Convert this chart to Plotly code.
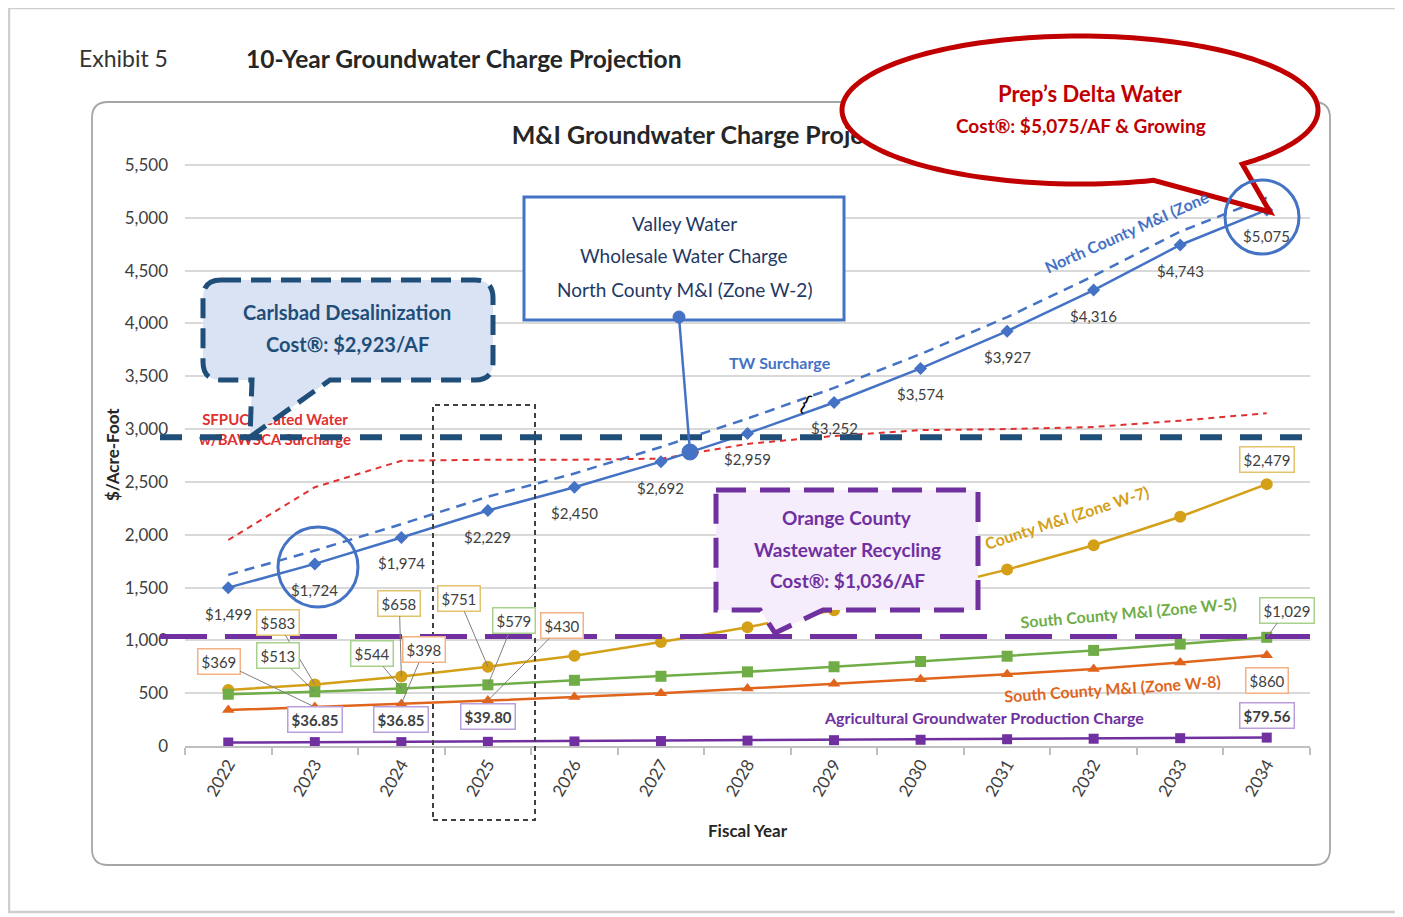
import numpy as np
import plotly.graph_objects as go

# ---------------- data ----------------
years = list(range(2022, 2035))
year_labels = [str(y) for y in years]
north_w2 = [1499, 1724, 1974, 2229, 2450, 2692, 2959, 3252, 3574, 3927, 4316, 4743, 5075]
north_w2_tw = [1620, 1850, 2100, 2360, 2580, 2830, 3100, 3390, 3710, 4060, 4450, 4870, 5190]
sfpuc = [1950, 2450, 2700, 2710, 2710, 2720, 2860, 2935, 2990, 3000, 3020, 3080, 3150]
north_w7 = [530, 583, 658, 751, 855, 985, 1125, 1285, 1470, 1670, 1900, 2170, 2479]
south_w5 = [490, 513, 544, 579, 622, 660, 702, 750, 800, 850, 905, 965, 1029]
south_w8 = [340, 369, 398, 430, 465, 500, 545, 590, 632, 680, 730, 790, 860]
agri = [33.00, 36.85, 36.85, 39.80, 43, 47, 51, 55, 59, 64, 69, 74, 79.56]
carlsbad_cost = 2923
oc_cost = 1036
y_ticks = list(range(0, 5501, 500))

FONT = "Lato"
BLUE = "#4472C4"
GOLD = "#D4A017"
GREEN = "#70AD47"
ORANGE = "#E0651C"
PURPLE = "#7030A0"
RED = "#E03030"
NAVY = "#1F4E79"
DARKRED = "#C00000"
TXT = "#404040"

# page geometry (reference pixels); the html body adds an 8px offset
OFF = 8
PW, PH = 1403, 917
W, H = PW - OFF, PH - OFF
L, R, B = 185, 1310, 746          # plot area left/right/bottom
Y5500 = 165                       # pixel row of the 5,500 gridline
TOPPX = 110                       # top of (invisible) plot area
YMAX = 5500 * (B - TOPPX) / (B - Y5500)


def px(x):
    return (x - L) / (R - L)


def py(y):
    return (B - y) / (B - TOPPX)


def ydata(y):
    return YMAX * (B - y) / (B - TOPPX)


def xdata(x):
    return 2021.5 + 13 * (x - L) / (R - L)


def P(x, y):
    return f"{px(x):.5f},{py(y):.5f}"


fig = go.Figure()

# ---------------- series ----------------
fig.add_trace(go.Scatter(x=years, y=sfpuc, mode="lines",
                         line=dict(color=RED, width=2, dash="6px,5px"), hoverinfo="skip"))
fig.add_trace(go.Scatter(x=years, y=north_w2_tw, mode="lines",
                         line=dict(color=BLUE, width=2.5, dash="10px,7px"), hoverinfo="skip"))
fig.add_trace(go.Scatter(x=years, y=north_w2, mode="lines+markers",
                         line=dict(color=BLUE, width=2.5),
                         marker=dict(symbol="diamond", size=10, color=BLUE), hoverinfo="skip"))
fig.add_trace(go.Scatter(x=years, y=north_w7, mode="lines+markers",
                         line=dict(color=GOLD, width=2.5),
                         marker=dict(symbol="circle", size=12, color=GOLD), hoverinfo="skip"))
fig.add_trace(go.Scatter(x=years, y=south_w5, mode="lines+markers",
                         line=dict(color=GREEN, width=2.5),
                         marker=dict(symbol="square", size=11, color=GREEN), hoverinfo="skip"))
fig.add_trace(go.Scatter(x=years, y=south_w8, mode="lines+markers",
                         line=dict(color=ORANGE, width=2.5),
                         marker=dict(symbol="triangle-up", size=11, color=ORANGE), hoverinfo="skip"))
fig.add_trace(go.Scatter(x=years, y=agri, mode="lines+markers",
                         line=dict(color=PURPLE, width=2.5),
                         marker=dict(symbol="square", size=10, color=PURPLE), hoverinfo="skip"))

# texts that sit beneath the callout shapes (drawn as text traces)
fig.add_trace(go.Scatter(x=[xdata(716)], y=[ydata(138)], mode="text",
                         text=["M&I Groundwater Charge Projection"], cliponaxis=False,
                         textfont=dict(family=FONT, size=25, color="#262626", weight="bold"),
                         hoverinfo="skip"))
fig.add_trace(go.Scatter(x=[xdata(275)], y=[ydata(431)], mode="text",
                         text=["SFPUC Treated Water<br>w/BAWSCA Surcharge"], cliponaxis=False,
                         textfont=dict(family=FONT, size=15, color=RED, weight="bold"),
                         hoverinfo="skip"))

annotations = []

# data labels on the North County W-2 line
for x, v in zip(years, north_w2):
    annotations.append(dict(x=x, y=v, text=f"${v:,}", showarrow=False, yshift=-26,
                            font=dict(family=FONT, size=15, color=TXT)))


def boxed(x, y, text, color, ax=None, ay=None, yshift=0, bold=False):
    d = dict(x=x, y=y, text=(f"<b>{text}</b>" if bold else text),
             font=dict(family=FONT, size=15, color=TXT),
             bgcolor="white", bordercolor=color, borderwidth=1.5, borderpad=3)
    if ax is None:
        d.update(showarrow=False, yshift=yshift)
    else:
        d.update(showarrow=True, ax=ax, ay=ay, arrowhead=0, arrowwidth=1,
                 arrowcolor="#7f7f7f", standoff=0)
    annotations.append(d)


GOLDB, GREENB, ORANGEB, PURPLEB = "#E2C26A", "#A9D18E", "#F4B183", "#B9A0DC"
boxed(2023, north_w7[1], f"${north_w7[1]:,}", GOLDB, -37, -62)
boxed(2023, south_w5[1], f"${south_w5[1]:,}", GREENB, -37, -36)
boxed(2023, south_w8[1], f"${south_w8[1]:,}", ORANGEB, -96, -46)
boxed(2024, north_w7[2], f"${north_w7[2]:,}", GOLDB, -2, -73)
boxed(2024, south_w5[2], f"${south_w5[2]:,}", GREENB, -29, -35)
boxed(2024, south_w8[2], f"${south_w8[2]:,}", ORANGEB, 23, -54)
boxed(2025, north_w7[3], f"${north_w7[3]:,}", GOLDB, -29, -68)
boxed(2025, south_w5[3], f"${south_w5[3]:,}", GREENB, 26, -64)
boxed(2025, south_w8[3], f"${south_w8[3]:,}", ORANGEB, 74, -75)
boxed(2023, agri[1], f"${agri[1]:.2f}", PURPLEB, yshift=23, bold=True)
boxed(2024, agri[2], f"${agri[2]:.2f}", PURPLEB, yshift=23, bold=True)
boxed(2025, agri[3], f"${agri[3]:.2f}", PURPLEB, yshift=25, bold=True)
boxed(2034, north_w7[12], f"${north_w7[12]:,}", GOLDB, yshift=25)
boxed(2034, south_w5[12], f"${south_w5[12]:,}", GREENB, 20, -27)
boxed(2034, south_w8[12], f"${south_w8[12]:,}", ORANGEB, yshift=-25)
boxed(2034, agri[12], f"${agri[12]:.2f}", PURPLEB, yshift=22, bold=True)


def ptxt(x, y, text, color, size=16, angle=0, weight="normal"):
    annotations.append(dict(x=px(x), y=py(y), xref="paper", yref="paper", text=text,
                            xanchor="center", yanchor="middle",
                            showarrow=False, textangle=angle,
                            font=dict(family=FONT, size=size, color=color, weight=weight)))


# series name labels
ptxt(1127, 232, "North County M&I (Zone", BLUE, 16, -24, "bold")
ptxt(780, 362, "TW Surcharge", BLUE, 16, 0, "bold")
ptxt(1066, 517, "County M&I (Zone W-7)", GOLD, 16, -18, "bold")
ptxt(1128, 612, "South County M&I (Zone W-5)", GREEN, 16, -5, "bold")
ptxt(1112, 688, "South County M&I (Zone W-8)", ORANGE, 16, -4, "bold")
ptxt(984, 717, "Agricultural Groundwater Production Charge", PURPLE, 16, 0, "bold")
ptxt(806, 402, "{", "#000000", 22, 28)

# headers & axis titles
ptxt(123, 58, "Exhibit 5", "#333333", 23)
ptxt(464, 58, "10-Year Groundwater Charge Projection", "#262626", 24.5, 0, "bold")
ptxt(112, 455, "$/Acre-Foot", "#262626", 17, -90, "bold")
ptxt(748, 830, "Fiscal Year", "#262626", 17, 0, "bold")

# callout texts
ptxt(347, 312, "Carlsbad Desalinization", NAVY, 20, 0, "bold")
ptxt(347, 344, "Cost\u00ae: $2,923/AF", NAVY, 20, 0, "bold")
ptxt(684, 224, "Valley Water", "#1F3864", 19)
ptxt(684, 256, "Wholesale Water Charge", "#1F3864", 19)
ptxt(684, 289, "North County M&I (Zone W-2)", "#1F3864", 19)
ptxt(847, 517, "Orange County", PURPLE, 19, 0, "bold")
ptxt(847, 549, "Wastewater Recycling", PURPLE, 19, 0, "bold")
ptxt(847, 580, "Cost\u00ae: $1,036/AF", PURPLE, 19, 0, "bold")
ptxt(1090, 93, "Prep\u2019s Delta Water", DARKRED, 22, 0, "bold")
ptxt(1081, 125, "Cost\u00ae: $5,075/AF & Growing", DARKRED, 19, 0, "bold")

# ---------------- shapes ----------------
shapes = []

# outer page border and chart frame
shapes.append(dict(type="rect", xref="paper", yref="paper", x0=px(9), x1=px(1399),
                   y0=py(912), y1=py(8), line=dict(color="#CFCFCF", width=2.5), layer="below"))
r = 16
x0, y0, x1, y1 = 92, 102, 1330, 865
frame = (f"M {P(x0 + r, y0)} L {P(x1 - r, y0)} Q {P(x1, y0)} {P(x1, y0 + r)} "
         f"L {P(x1, y1 - r)} Q {P(x1, y1)} {P(x1 - r, y1)} L {P(x0 + r, y1)} "
         f"Q {P(x0, y1)} {P(x0, y1 - r)} L {P(x0, y0 + r)} Q {P(x0, y0)} {P(x0 + r, y0)} Z")
shapes.append(dict(type="path", xref="paper", yref="paper", path=frame,
                   line=dict(color="#A6A6A6", width=1.8), layer="below"))

# dotted box around FY2025
shapes.append(dict(type="rect", xref="paper", yref="paper", x0=px(433), x1=px(535),
                   y0=py(820), y1=py(405), line=dict(color="#404040", width=2, dash="5px,4px"),
                   layer="above"))

# horizontal comparison lines
shapes.append(dict(type="line", xref="paper", yref="y", x0=px(160), x1=px(1305),
                   y0=carlsbad_cost, y1=carlsbad_cost,
                   line=dict(color=NAVY, width=6, dash="22px,18px"), layer="above"))
shapes.append(dict(type="line", xref="paper", yref="y", x0=px(160), x1=px(1310),
                   y0=oc_cost, y1=oc_cost,
                   line=dict(color=PURPLE, width=5, dash="47px,18px"), layer="above"))

# Carlsbad callout
cx0, cy0, cx1, cy1, cr = 203, 280, 493, 380, 18
carls = (f"M {P(cx0 + cr, cy0)} L {P(cx1 - cr, cy0)} Q {P(cx1, cy0)} {P(cx1, cy0 + cr)} "
         f"L {P(cx1, cy1 - cr)} Q {P(cx1, cy1)} {P(cx1 - cr, cy1)} L {P(330, cy1)} "
         f"L {P(250, 437)} L {P(252, cy1)} L {P(cx0 + cr, cy1)} "
         f"Q {P(cx0, cy1)} {P(cx0, cy1 - cr)} L {P(cx0, cy0 + cr)} Q {P(cx0, cy0)} {P(cx0 + cr, cy0)} Z")
shapes.append(dict(type="path", xref="paper", yref="paper", path=carls, fillcolor="#DAE3F3",
                   line=dict(color=NAVY, width=5, dash="20px,10px"), layer="above"))

# Valley Water callout
shapes.append(dict(type="line", xref="paper", yref="paper", x0=px(679), y0=py(317),
                   x1=px(690), y1=py(452), line=dict(color=BLUE, width=2.5), layer="above"))
shapes.append(dict(type="rect", xref="paper", yref="paper", x0=px(524), x1=px(844),
                   y0=py(320), y1=py(197), fillcolor="white",
                   line=dict(color=BLUE, width=3), layer="above"))
for (cx, cy, rr) in [(679, 317, 6), (690, 452, 8)]:
    shapes.append(dict(type="circle", xref="paper", yref="paper", x0=px(cx - rr), x1=px(cx + rr),
                       y0=py(cy + rr), y1=py(cy - rr), fillcolor=BLUE,
                       line=dict(color=BLUE, width=1), layer="above"))

# Orange County callout
oc = (f"M {P(716, 490)} L {P(978, 490)} L {P(978, 610)} L {P(823, 610)} "
      f"L {P(775, 633)} L {P(760, 610)} L {P(716, 610)} Z")
shapes.append(dict(type="path", xref="paper", yref="paper", path=oc, fillcolor="#F5EDFC",
                   line=dict(color=PURPLE, width=5, dash="30px,14px"), layer="above"))

# speech bubble
ecx, ecy, erx, ery = 1080, 110, 238, 74
ts = np.radians(np.linspace(47, -288, 160))
pts = [(ecx + erx * np.cos(t), ecy + ery * np.sin(t)) for t in ts]
bubble = "M " + " L ".join(P(a, b) for a, b in pts) + f" L {P(1270, 212)} Z"
shapes.append(dict(type="path", xref="paper", yref="paper", path=bubble, fillcolor="white",
                   line=dict(color=DARKRED, width=5), layer="above"))

# highlight circles
for (cx, cy, rr) in [(318, 567, 40), (1262, 217, 37)]:
    shapes.append(dict(type="circle", xref="paper", yref="paper", x0=px(cx - rr), x1=px(cx + rr),
                       y0=py(cy + rr), y1=py(cy - rr),
                       line=dict(color=BLUE, width=3), layer="above"))

fig.update_layout(
    width=W, height=H,
    margin=dict(l=L - OFF, r=PW - R, t=TOPPX - OFF, b=PH - B, pad=0),
    paper_bgcolor="white", plot_bgcolor="white",
    showlegend=False,
    font=dict(family=FONT, color=TXT),
    shapes=shapes, annotations=annotations,
    xaxis=dict(range=[2021.5, 2034.5], tickmode="array", tickvals=years, ticktext=year_labels,
               tickangle=-60, ticks="", showgrid=False, zeroline=False,
               showline=True, linecolor="#BFBFBF", linewidth=1.5,
               tickfont=dict(family=FONT, size=17, color=TXT),
               minor=dict(tickmode="array", tickvals=[2021.5 + i for i in range(14)],
                          ticks="outside", ticklen=7, tickcolor="#BFBFBF", tickwidth=1.5,
                          showgrid=False)),
    yaxis=dict(range=[0, YMAX], tickmode="array", tickvals=y_ticks, tickformat=",",
               showgrid=True, gridcolor="#D9D9D9", gridwidth=1.5, zeroline=False,
               showline=False, ticks="", ticklabelstandoff=16,
               tickfont=dict(family=FONT, size=17, color=TXT)),
)

fig.write_html("out.html")
